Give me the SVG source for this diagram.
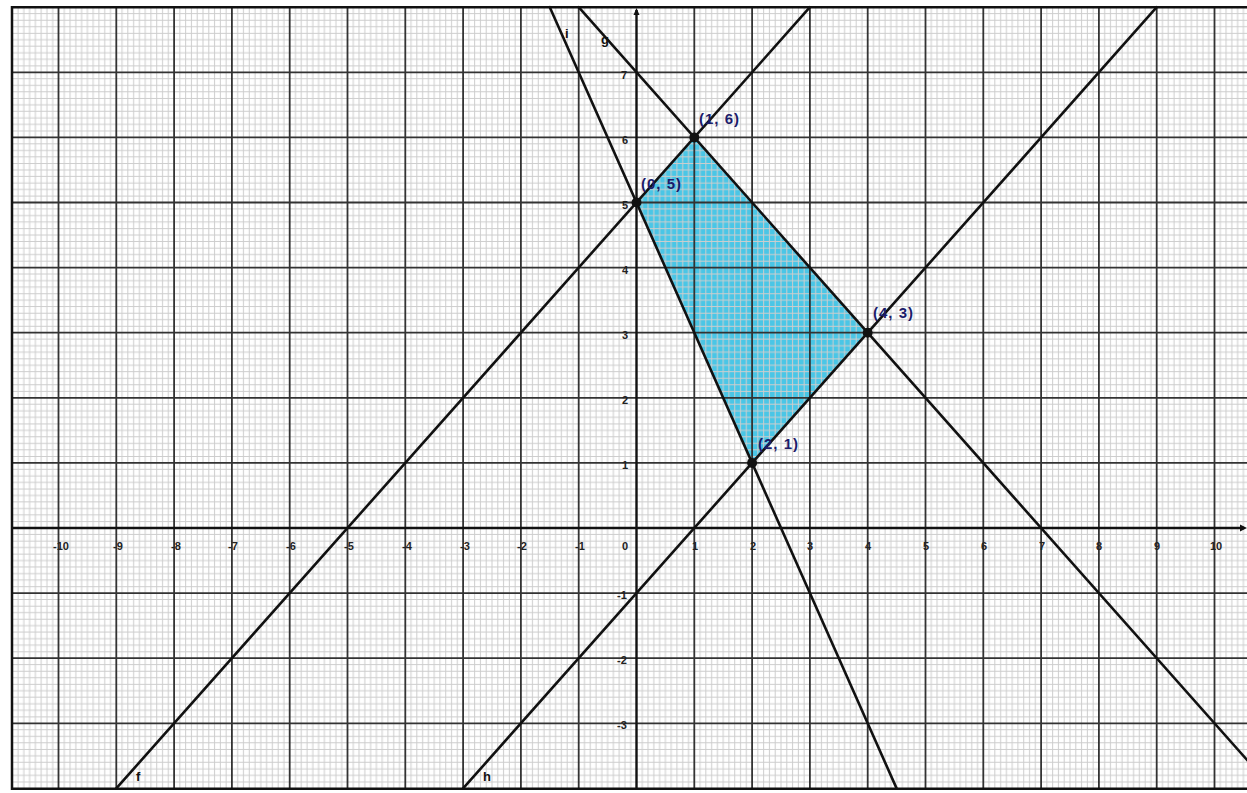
<svg xmlns="http://www.w3.org/2000/svg" width="1247" height="793" viewBox="0 0 1247 793">
<style>
.minor{stroke:#cdcdcd;stroke-width:1;fill:none}
.major{stroke:#333;stroke-width:1.8;fill:none}
.axis{stroke:#111;stroke-width:2.4;fill:none}
.frame{stroke:#111;stroke-width:2.5;fill:none}
.ln{stroke:#111;stroke-width:2.6;fill:none;stroke-linecap:round}
.dot{fill:#111}
.tick{font-family:"Liberation Sans",Arial,sans-serif;font-size:11px;font-weight:bold;fill:#222;text-anchor:middle}
.pt{font-family:"Liberation Sans",Arial,sans-serif;font-size:15px;font-weight:bold;fill:#1c1c6a;letter-spacing:1px}
.lab{font-family:"Liberation Sans",Arial,sans-serif;font-size:13px;font-weight:bold;fill:#111}
</style>
<defs>
<pattern id="minorgrid" patternUnits="userSpaceOnUse" x="636.5" y="528" width="57.8" height="65.1">
<path class="minor" d="M5.78 0V65.1M11.56 0V65.1M17.34 0V65.1M23.12 0V65.1M28.9 0V65.1M34.68 0V65.1M40.46 0V65.1M46.24 0V65.1M52.02 0V65.1M0 6.51H57.8M0 13.02H57.8M0 19.53H57.8M0 26.04H57.8M0 32.55H57.8M0 39.06H57.8M0 45.57H57.8M0 52.08H57.8M0 58.59H57.8"/>
</pattern>
</defs>
<rect x="0" y="0" width="1247" height="793" fill="#fff"/>
<g id="region">
<polygon points="636.5,202.5 694.3,137.4 867.7,332.7 752.1,462.9" fill="#4ac6e6"/>
</g>
<g id="grid">
<rect x="12" y="7" width="1235" height="782" fill="url(#minorgrid)"/>
<path class="major" d="M58.5 7.2V788.4M116.3 7.2V788.4M174.1 7.2V788.4M231.9 7.2V788.4M289.7 7.2V788.4M347.5 7.2V788.4M405.3 7.2V788.4M463.1 7.2V788.4M520.9 7.2V788.4M578.7 7.2V788.4M694.3 7.2V788.4M752.1 7.2V788.4M809.9 7.2V788.4M867.7 7.2V788.4M925.5 7.2V788.4M983.3 7.2V788.4M1041.1 7.2V788.4M1098.9 7.2V788.4M1156.7 7.2V788.4M1214.5 7.2V788.4M12 72.3H1247M12 137.4H1247M12 202.5H1247M12 267.6H1247M12 332.7H1247M12 397.8H1247M12 462.9H1247M12 593.1H1247M12 658.2H1247M12 723.3H1247"/>
<path class="frame" d="M1247 7.2H12V788.8H1247"/>
</g>
<g id="axes">
<path class="axis" d="M12 528H1244M636.5 788.4V10"/>
<path d="M1247 528l-7 -3.5v7z" fill="#111"/>
<path d="M636.5 8l-3 7h6z" fill="#111"/>
</g>
<g id="connectors">
<line class="ln" x1="116.3" y1="788.4" x2="809.9" y2="7.2"/>
<line class="ln" x1="463.1" y1="788.4" x2="1156.7" y2="7.2"/>
<line class="ln" x1="578.7" y1="7.2" x2="1272.3" y2="788.4"/>
<line class="ln" x1="549.8" y1="7.2" x2="896.6" y2="788.4"/>
</g>
<g id="line-labels">
<text class="lab" x="136" y="781">f</text>
<text class="lab" x="483" y="781">h</text>
<text class="lab" x="565" y="38">i</text>
<text class="lab" x="601" y="44">g</text>
</g>
<g id="p05"><circle class="dot" cx="636.5" cy="202.5" r="5"/><text class="pt" x="641" y="189">(0, 5)</text></g>
<g id="p16"><circle class="dot" cx="694.3" cy="137.4" r="5"/><text class="pt" x="699" y="124">(1, 6)</text></g>
<g id="p43"><circle class="dot" cx="867.7" cy="332.7" r="5"/><text class="pt" x="873" y="318">(4, 3)</text></g>
<g id="p21"><circle class="dot" cx="752.1" cy="462.9" r="5"/><text class="pt" x="758" y="449">(2, 1)</text></g>
<g id="x-ticks">
<text class="tick" x="61" y="550">-10</text>
<text class="tick" x="118" y="550">-9</text>
<text class="tick" x="176" y="550">-8</text>
<text class="tick" x="233" y="550">-7</text>
<text class="tick" x="291" y="550">-6</text>
<text class="tick" x="349" y="550">-5</text>
<text class="tick" x="407" y="550">-4</text>
<text class="tick" x="465" y="550">-3</text>
<text class="tick" x="522" y="550">-2</text>
<text class="tick" x="580" y="550">-1</text>
<text class="tick" x="625" y="550">0</text>
<text class="tick" x="695" y="550">1</text>
<text class="tick" x="753" y="550">2</text>
<text class="tick" x="810" y="550">3</text>
<text class="tick" x="868" y="550">4</text>
<text class="tick" x="926" y="550">5</text>
<text class="tick" x="984" y="550">6</text>
<text class="tick" x="1042" y="550">7</text>
<text class="tick" x="1099" y="550">8</text>
<text class="tick" x="1157" y="550">9</text>
<text class="tick" x="1216" y="550">10</text>
</g>
<g id="y-ticks">
<text class="tick" x="624" y="79">7</text>
<text class="tick" x="625" y="144">6</text>
<text class="tick" x="625" y="209">5</text>
<text class="tick" x="625" y="274">4</text>
<text class="tick" x="625" y="339">3</text>
<text class="tick" x="625" y="404">2</text>
<text class="tick" x="625" y="469">1</text>
<text class="tick" x="622" y="599">-1</text>
<text class="tick" x="622" y="664">-2</text>
<text class="tick" x="622" y="729">-3</text>
</g>
</svg>
